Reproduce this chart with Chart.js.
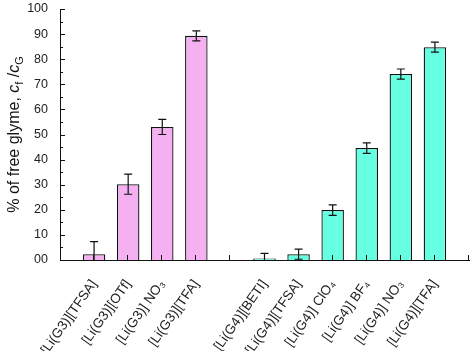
<!DOCTYPE html>
<html>
<head>
<meta charset="utf-8">
<script src="https://cdn.jsdelivr.net/npm/chart.js@4.4.0/dist/chart.umd.min.js"></script>
<style>
  html, body { margin: 0; padding: 0; background: #fff; }
  #wrap { width: 472px; height: 351px; }
</style>
</head>
<body>
<div id="wrap"><canvas id="chart"></canvas></div>
<script>
// Category slots: blank at both ends and between the two glyme groups
const labels = ['', '[Li(G3)][TFSA]', '[Li(G3)][OTf]', '[Li(G3)] NO₃', '[Li(G3)][TFA]', '',
    '[Li(G4)][BETI]', '[Li(G4)][TFSA]', '[Li(G4)] ClO₄', '[Li(G4)] BF₄', '[Li(G4)] NO₃', '[Li(G4)][TFA]', ''];

const g3Values = [null, 2.3, 30.2, 53.0, 89.3, null, null, null, null, null, null, null, null];
const g3Errors = [null, 5.0, 4.0, 3.0, 2.0, null, null, null, null, null, null, null, null];
const g4Values = [null, null, null, null, null, null, 0.6, 2.3, 19.9, 44.6, 74.1, 84.8, null];
const g4Errors = [null, null, null, null, null, null, 2.0, 2.0, 2.1, 2.1, 2.0, 2.0, null];

const yTicks = [0, 10, 20, 30, 40, 50, 60, 70, 80, 90, 100];

const FONT = '"Liberation Sans", Arial, Helvetica, sans-serif';

// Error bars + inward tick marks
const errorBars = {
    id: 'errorBars',
    afterDatasetsDraw(chart) {
        const ctx = chart.ctx;
        const y = chart.scales.y;
        const x = chart.scales.x;
        const area = chart.chartArea;
        const errs = [g3Errors, g4Errors];
        ctx.save();
        ctx.beginPath();
        ctx.rect(area.left, area.top - 5, area.right - area.left, area.bottom - area.top + 5);
        ctx.clip();
        ctx.strokeStyle = '#111';
        ctx.lineWidth = 1.2;
        chart.data.datasets.forEach((ds, di) => {
            const meta = chart.getDatasetMeta(di);
            ds.data.forEach((v, i) => {
                if (v === null) return;
                const e = errs[di][i];
                const px = meta.data[i].x;
                const top = y.getPixelForValue(v + e);
                const bot = y.getPixelForValue(v - e);
                ctx.beginPath();
                ctx.moveTo(px, top); ctx.lineTo(px, bot);
                ctx.moveTo(px - 4, top); ctx.lineTo(px + 4, top);
                ctx.moveTo(px - 4, bot); ctx.lineTo(px + 4, bot);
                ctx.stroke();
            });
        });
        ctx.restore();

        // tick marks pointing into the plot
        ctx.save();
        ctx.strokeStyle = '#111';
        ctx.lineWidth = 1;
        ctx.beginPath();
        for (let v = 0; v <= 100; v += 5) {
            const py = Math.round(y.getPixelForValue(v)) + 0.5;
            const len = v % 10 === 0 ? 5 : 3;
            ctx.moveTo(area.left, py); ctx.lineTo(area.left + len, py);
        }
        for (let i = 1; i < labels.length; i++) {
            const px = Math.round(x.getPixelForValue(i)) - 0.5;
            ctx.moveTo(px, area.bottom); ctx.lineTo(px, area.bottom - 5);
        }
        ctx.stroke();
        ctx.restore();
    }
};

// Y axis title with italic c and subscripts
const yTitle = {
    id: 'yTitle',
    afterDraw(chart) {
        const ctx = chart.ctx;
        const area = chart.chartArea;
        const parts = [
            { t: '% of free glyme, ', f: '16px ' + FONT, dy: 0 },
            { t: 'c', f: 'italic 16px ' + FONT, dy: 0 },
            { t: 'f', f: '11px ' + FONT, dy: 4 },
            { t: ' /', f: '16px ' + FONT, dy: 0 },
            { t: 'c', f: 'italic 16px ' + FONT, dy: 0 },
            { t: 'G', f: '11px ' + FONT, dy: 4 }
        ];
        ctx.save();
        ctx.fillStyle = '#111';
        ctx.textBaseline = 'alphabetic';
        let total = 0;
        parts.forEach(p => { ctx.font = p.f; p.w = ctx.measureText(p.t).width; total += p.w; });
        ctx.translate(19, (area.top + area.bottom) / 2);
        ctx.rotate(-Math.PI / 2);
        let cx = -total / 2;
        parts.forEach(p => {
            ctx.font = p.f;
            ctx.fillText(p.t, cx, p.dy);
            cx += p.w;
        });
        ctx.restore();
    }
};

new Chart(document.getElementById('chart'), {
    type: 'bar',
    data: {
        labels: labels,
        datasets: [{
            data: g3Values,
            backgroundColor: '#F4B0F0',
            borderColor: '#111',
            borderWidth: 1.3,
            grouped: false,
            barPercentage: 0.66,
            categoryPercentage: 1
        }, {
            data: g4Values,
            backgroundColor: '#66FFE2',
            borderColor: '#111',
            borderWidth: 1.3,
            grouped: false,
            barPercentage: 0.66,
            categoryPercentage: 1
        }]
    },
    options: {
        responsive: true,
        maintainAspectRatio: false,
        animation: false,
        layout: {
            padding: { top: 9, right: 3, left: 0, bottom: 0 }
        },
        plugins: {
            legend: { display: false },
            tooltip: { enabled: false }
        },
        scales: {
            x: {
                offset: false,
                grid: { display: false },
                border: { display: true, color: '#111', width: 1 },
                ticks: {
                    color: '#222',
                    font: { family: FONT, size: 13.5 },
                    minRotation: 55,
                    maxRotation: 55,
                    autoSkip: false,
                    padding: 9
                },
                afterFit: s => { s.height = 91; s.paddingRight = 0; s.paddingLeft = 0; }
            },
            y: {
                min: 0,
                max: 100,
                afterBuildTicks: s => { s.ticks = yTicks.map(v => ({ value: v })); },
                grid: { display: false },
                border: { display: true, color: '#111', width: 1 },
                ticks: {
                    color: '#222',
                    font: { family: FONT, size: 12.5 },
                    padding: 4,
                    callback: v => (v === 0 ? '00' : String(v))
                },
                afterFit: s => { s.width = 60; s.paddingTop = 0; s.paddingBottom = 0; }
            }
        }
    },
    plugins: [errorBars, yTitle]
});
</script>
</body>
</html>
